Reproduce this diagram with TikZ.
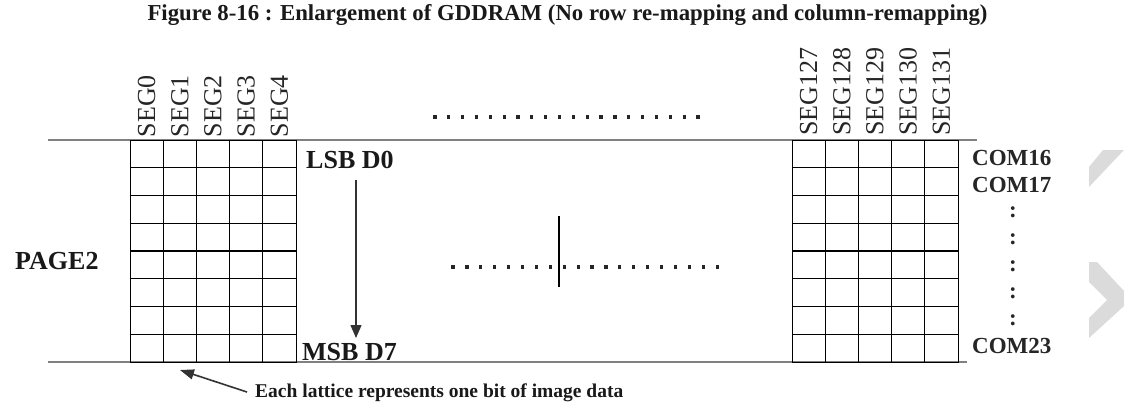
\documentclass[tikz,border=0pt]{standalone}
\usepackage{fontspec}
\setmainfont{Liberation Serif}
\usetikzlibrary{arrows.meta}
\begin{document}
\begin{tikzpicture}[x=1pt,y=-1pt,
  lattice/.style={draw=black, line width=1.1pt, minimum width=166pt, minimum height=222pt, inner sep=0pt, anchor=north west},
  cellline/.style={black, line width=1.1pt},
  rule/.style={draw=black!50, line width=1.8pt},
  seglabel/.style={rotate=90, anchor=west, inner sep=0pt, font=\fontsize{26}{28}\selectfont, text=black!85},
  boldlabel/.style={anchor=west, inner sep=0pt, font=\bfseries\fontsize{26}{28}\selectfont, text=black!90},
  comlabel/.style={inner sep=0pt, font=\bfseries\fontsize{23}{25}\selectfont, text=black!85},
  downarrow/.style={draw=black!80, line width=1.2pt, -{Triangle[length=13pt,width=11pt]}},
  notearrow/.style={draw=black!80, line width=1.6pt, -{Triangle[length=14pt,width=10pt]}},
  dotmark/.style={fill=black!85},
  watermark/.style={fill=black!14}
]
% canvas
\fill[white] (0,0) rectangle (1124,405);

% title
\node[inner sep=0pt, font=\bfseries\fontsize{22.8}{24}\selectfont, text=black!90] (title) at (567.5,15) {Figure 8-16 : Enlargement of GDDRAM (No row re-mapping and column-remapping)};

% page boundaries
\coordinate (topL) at (48,140);
\coordinate (topR) at (977,140);
\coordinate (botL) at (48,362);
\coordinate (botR) at (967,362);
\draw[rule] (topL) -- (topR);
\draw[rule] (botL) -- (botR);

% left lattice (SEG0..SEG4)
\node[lattice] (gl) at (130,140) {};
\foreach \i in {1,...,4} \draw[cellline] (gl.north west) ++(\i*33.2,0) -- ++(0,222);
\foreach \j in {1,...,7} \draw[cellline] (gl.north west) ++(0,\j*27.75) -- ++(166,0);

% right lattice (SEG127..SEG131)
\node[lattice] (gr) at (792,140) {};
\foreach \i in {1,...,4} \draw[cellline] (gr.north west) ++(\i*33.2,0) -- ++(0,222);
\foreach \j in {1,...,7} \draw[cellline] (gr.north west) ++(0,\j*27.75) -- ++(166,0);

% segment labels
\foreach \n [count=\k from 0] in {0,1,2,3,4}
  \node[seglabel] (segL\n) at (130+16.6+\k*33.2,137.5) {SEG\n};
\foreach \n [count=\k from 0] in {127,128,129,130,131}
  \node[seglabel] (segR\n) at (792+16.6+\k*33.2,136) {SEG\n};

% bit order
\node[boldlabel] (lsb) at (306,159.5) {LSB D0};
\node[boldlabel] (msb) at (302,352.5) {MSB D7};
\coordinate (arrowtop) at (356,180);
\coordinate (arrowtip) at (356,338);
\draw[downarrow] (arrowtop) -- (arrowtip);

% page label
\node[boldlabel] (page) at (15,261) {PAGE2};

% common lines
\node[comlabel, anchor=west] (com16) at (972,158) {COM16};
\node[comlabel, anchor=west] (com17) at (972,185) {COM17};
\foreach \j in {2,...,6}
  \node[comlabel] (colon\j) at (1013,158+\j*27) {:};
\node[comlabel, anchor=west] (com23) at (972,346) {COM23};

% elided columns
\foreach \k in {0,...,19}
  \fill[dotmark] (435+\k*13.84-1.6,117-1.6) rectangle ++(3.2,3.2);
\foreach \k in {0,...,19}
  \fill[dotmark] (453+\k*13.9-1.6,267-1.6) rectangle ++(3.2,3.2);
\coordinate (bartop) at (559,216);
\coordinate (barbot) at (559,287);
\draw[black, line width=1.4pt] (bartop) -- (barbot);

% note
\node[boldlabel, font=\bfseries\fontsize{19.5}{21}\selectfont] (note) at (255,393) {Each lattice represents one bit of image data};
\coordinate (notetail) at (247,392);
\coordinate (notetip) at (180,370);
\draw[notearrow] (notetail) -- (notetip);

% chevron marks at the right margin
\fill[watermark] (1089,187) -- (1089,167) -- (1103,150) -- (1124,150) -- cycle;
\fill[watermark] (1089,262) -- (1097,262) -- (1124,291) -- (1124,306) -- (1089,338) -- (1089,318) -- (1107,300) -- (1089,282) -- cycle;
\end{tikzpicture}
\end{document}
